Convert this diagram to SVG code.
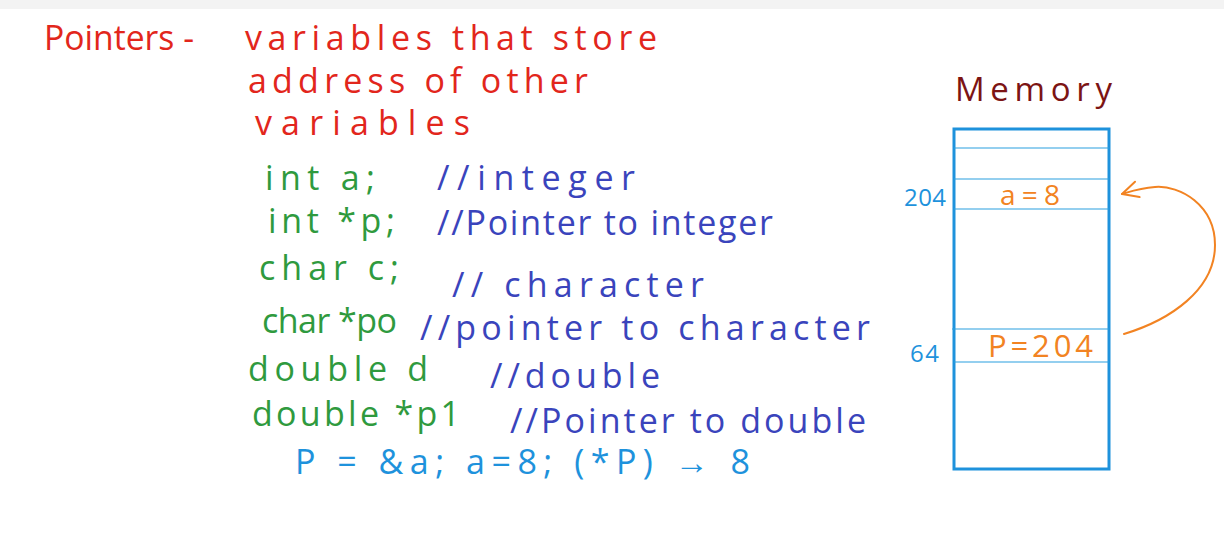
<svg xmlns="http://www.w3.org/2000/svg" width="1224" height="543" viewBox="0 0 1224 543">
<style>
text{font-family:"Open Sans","Liberation Sans",sans-serif;font-size:34px}
.red{fill:#e2261c}
.grn{fill:#2f9a3e}
.blu{fill:#3a44bc}
.lb{fill:#1e92dc}
.org{fill:#f28322}
.mem{fill:#7c1414;font-size:33px}
.addr{font-size:24px}
.cell{stroke:#2aa0e0;stroke-width:1.2;fill:none}
</style>
<defs>
<marker id="ah" viewBox="0 0 20 20" refX="18" refY="10" markerWidth="20" markerHeight="20" markerUnits="userSpaceOnUse" orient="auto">
<path d="M2 2 L18 10 L2 18" fill="none" stroke="#f28322" stroke-width="2" stroke-linecap="round" stroke-linejoin="round"/>
</marker>
</defs>
<rect width="1224" height="543" fill="#ffffff"/>
<rect width="1224" height="9" fill="#f3f3f3"/>
<g id="definition">
<text class="red" x="44" y="50" textLength="150" lengthAdjust="spacingAndGlyphs">Pointers -</text>
<text class="red" x="245" y="50" textLength="412" lengthAdjust="spacing">variables that store</text>
<text class="red" x="248" y="93" textLength="340" lengthAdjust="spacing">address of other</text>
<text class="red" x="255" y="135" textLength="215" lengthAdjust="spacing">variables</text>
</g>
<g id="code">
<text class="grn" x="265" y="190" textLength="110" lengthAdjust="spacing">int a;</text>
<text class="blu" x="437" y="190" textLength="198" lengthAdjust="spacing">//integer</text>
<text class="grn" x="268" y="233" textLength="127" lengthAdjust="spacing">int *p;</text>
<text class="blu" x="437" y="235" textLength="336" lengthAdjust="spacing">//Pointer to integer</text>
<text class="grn" x="259" y="280" textLength="140" lengthAdjust="spacing">char c;</text>
<text class="blu" x="452" y="297" textLength="252" lengthAdjust="spacing">// character</text>
<text class="grn" x="262" y="333" textLength="135" lengthAdjust="spacing">char *po</text>
<text class="blu" x="420" y="340" textLength="450" lengthAdjust="spacing">//pointer to character</text>
<text class="grn" x="248" y="381" textLength="180" lengthAdjust="spacing">double d</text>
<text class="blu" x="490" y="388" textLength="170" lengthAdjust="spacing">//double</text>
<text class="grn" x="252" y="426" textLength="208" lengthAdjust="spacing">double *p1</text>
<text class="blu" x="510" y="433" textLength="356" lengthAdjust="spacing">//Pointer to double</text>
<text class="lb" x="295" y="474" textLength="455" lengthAdjust="spacing">P = &amp;a; a=8; (*P) → 8</text>
</g>
<g id="memory">
<text class="mem" x="955" y="101" textLength="157" lengthAdjust="spacing">Memory</text>
<rect x="954" y="129" width="155" height="340" fill="none" stroke="#1e92dc" stroke-width="3"/>
<line class="cell" x1="954" y1="148" x2="1109" y2="148"/>
<line class="cell" x1="954" y1="179" x2="1109" y2="179"/>
<line class="cell" x1="954" y1="209" x2="1109" y2="209"/>
<line class="cell" x1="952" y1="329" x2="1109" y2="329"/>
<line class="cell" x1="954" y1="362" x2="1109" y2="362"/>
</g>
<g id="cell-a">
<text class="lb addr" x="904" y="206" textLength="42" lengthAdjust="spacing">204</text>
<text class="org" x="1000" y="205" style="font-size:28px" textLength="60" lengthAdjust="spacing">a=8</text>
</g>
<g id="cell-p">
<text class="lb addr" x="910" y="362" textLength="29" lengthAdjust="spacing">64</text>
<text class="org" x="988" y="357" style="font-size:31px" textLength="105" lengthAdjust="spacing">P=204</text>
</g>
<g id="connectors">
<path d="M1124 334 C1170 320 1215 290 1215 245 C1215 205 1180 185 1155 187 C1140 188 1132 191 1122 194" fill="none" stroke="#f28322" stroke-width="2" stroke-linecap="round" marker-end="url(#ah)"/>
</g>
</svg>
